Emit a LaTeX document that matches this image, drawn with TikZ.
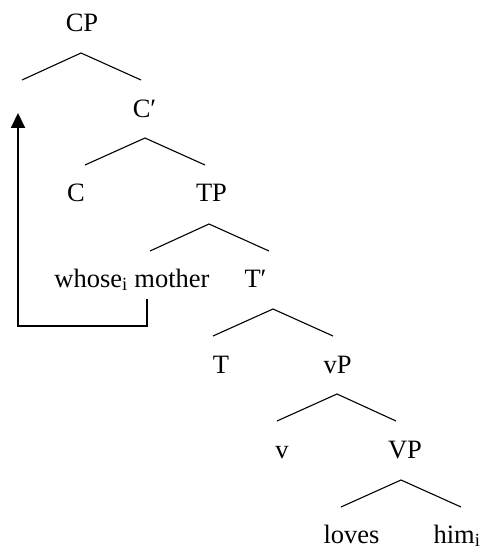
\documentclass[tikz,border=0pt]{standalone}
\usepackage{fontspec}
\setmainfont{Liberation Serif}
\usetikzlibrary{arrows.meta}
\begin{document}
\begin{tikzpicture}[x=1pt,y=-1pt,
  lbl/.style={anchor=base,inner sep=0pt,font=\fontsize{26.5}{30}\selectfont},
  branch/.style={line width=1.1pt},
  movement/.style={line width=2pt,-{Triangle[width=14pt,length=15pt]}}]
\useasboundingbox (0,0) rectangle (488,553);

% labels
\node[lbl] (CP)    at (82,32)    {CP};
\node[lbl] (Cbar)  at (144.5,118) {C′};
\node[lbl] (C)     at (76,201.5) {C};
\node[lbl] (TP)    at (211.5,201.5) {TP};
\node[lbl] (wm)    at (132,287)  {whose\textsubscript{i} mother};
\node[lbl] (Tbar)  at (255.5,287) {T′};
\node[lbl] (T)     at (221,373)  {T};
\node[lbl] (vP)    at (337.5,373) {vP};
\node[lbl] (v)     at (282,458)  {v};
\node[lbl] (VP)    at (405,458)  {VP};
\node[lbl] (loves) at (351.5,543) {loves};
\node[lbl] (him)   at (457,543)  {him\textsubscript{i}};

% branch points: apex, left end, right end
\coordinate (CP-t) at (81,53);   \coordinate (CP-l) at (22,80);   \coordinate (CP-r) at (141,80);
\coordinate (Cb-t) at (145,138); \coordinate (Cb-l) at (85,165);  \coordinate (Cb-r) at (205,165);
\coordinate (TP-t) at (209,224); \coordinate (TP-l) at (150,251); \coordinate (TP-r) at (269,251);
\coordinate (Tb-t) at (273,309); \coordinate (Tb-l) at (213,336); \coordinate (Tb-r) at (333,336);
\coordinate (vP-t) at (337,394); \coordinate (vP-l) at (277,421); \coordinate (vP-r) at (396,421);
\coordinate (VP-t) at (401,480); \coordinate (VP-l) at (341,507); \coordinate (VP-r) at (461,507);

\foreach \n in {CP,Cb,TP,Tb,vP,VP}
  \draw[branch] (\n-l) -- (\n-t) -- (\n-r);

% wh-movement arrow
\coordinate (trace)   at (147,299);
\coordinate (landing) at (18,113);
\draw[movement] (trace) -- (trace |- 0,326) -| (landing);
\end{tikzpicture}
\end{document}
